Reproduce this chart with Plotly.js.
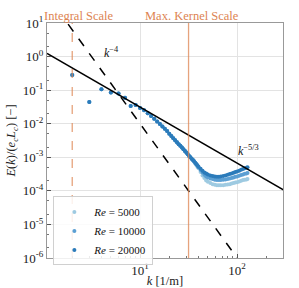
<!DOCTYPE html>
<html><head><meta charset="utf-8">
<script src="https://cdn.plot.ly/plotly-3.0.1.min.js"></script>
<style>html,body{margin:0;padding:0;background:#fff}#chart{width:299px;height:288px}</style>
</head><body><div id="chart"></div>
<script>
// wavenumbers k [1/m]
const kValues = [2,3,4,5,6,7,8,9,10,11,12,13,14,15,16,17,18,19,20,21,22,23,24,25,26,27,28,29,30,31,32,33,34,35,36,37,38,39,40,
  42,44,46,48,50,53,56,59,62,65,68,72,76,80,84,88,92,96,100,105,110,115,120,125,128];

const common = [0.282,0.0447,0.107,0.0851,0.0794,0.0589,0.0339,0.0363,0.0295,0.0251,0.0204,0.0170,0.0141,0.0117,0.00977,0.00832,0.00708,0.00603,0.00501,0.00427,0.00372,0.00324,0.00282,0.00245,0.00219,0.00195,0.00174,0.00155,0.00138,0.00123,0.00110,0.00100,0.000912,0.000832];

const E_Re20000 = common.concat([0.000759,0.000692,0.000631,0.000575,0.000525,
  0.000457,0.000398,0.000355,0.000331,0.000309,0.000288,0.000275,0.000269,0.000263,0.000263,0.000269,0.000275,0.000288,0.000302,0.000316,0.000331,0.000347,0.000363,0.000380,0.000398,0.000427,0.000447,0.000468,0.000490,0.000501]);
const E_Re10000 = common.concat([0.000759,0.000692,0.000617,0.000562,0.000501,
  0.000417,0.000355,0.000302,0.000269,0.000251,0.000234,0.000224,0.000214,0.000209,0.000209,0.000209,0.000214,0.000219,0.000224,0.000234,0.000240,0.000251,0.000263,0.000269,0.000282,0.000295,0.000309,0.000324,0.000331,0.000339]);
const E_Re5000 = common.concat([0.000741,0.000661,0.000589,0.000525,0.000468,
  0.000363,0.000288,0.000240,0.000204,0.000186,0.000170,0.000158,0.000151,0.000148,0.000148,0.000148,0.000148,0.000151,0.000155,0.000158,0.000166,0.000170,0.000178,0.000182,0.000191,0.000200,0.000209,0.000214,0.000219,0.000224]);

const seriesNames = ['<i>Re</i> = 5000','<i>Re</i> = 10000','<i>Re</i> = 20000'];
const seriesColors = ['#9ecae1','#5b9fd3','#2b7bba'];

// reference slopes
const refK = [1.1, 300];
const refKm4 = [100/Math.pow(1.1,4), 100/Math.pow(300,4)];
const refKm53 = [1.45*Math.pow(1.1,-5/3), 1.45*Math.pow(300,-5/3)];
const integralScale = 2;
const maxKernelScale = 31.6;

const orange = '#dd8452';
const serif = '"Liberation Serif", "Times New Roman", "DejaVu Serif", serif';

const traces = [];
[E_Re5000, E_Re10000, E_Re20000].forEach((E,i)=>{
  traces.push({x:kValues, y:E, type:'scatter', mode:'markers', name:seriesNames[i],
    marker:{color:seriesColors[i], size:4, line:{width:0}}});
});
traces.push({x:refK, y:refKm4, mode:'lines', line:{color:'black', dash:'dash', width:1.5}, showlegend:false, hoverinfo:'skip'});
traces.push({x:refK, y:refKm53, mode:'lines', line:{color:'black', width:1.5}, showlegend:false, hoverinfo:'skip'});
traces.push({x:[integralScale,integralScale], y:[1e-6,10], mode:'lines', line:{color:orange, dash:'dash', width:1.3}, opacity:0.75, showlegend:false, hoverinfo:'skip'});
traces.push({x:[maxKernelScale,maxKernelScale], y:[1e-6,10], mode:'lines', line:{color:orange, width:1.3}, opacity:0.75, showlegend:false, hoverinfo:'skip'});

const ytv = [10,1,0.1,0.01,1e-3,1e-4,1e-5,1e-6];
const ytt = ['10<sup>1</sup>','10<sup>0</sup>','10<sup>-1</sup>','10<sup>-2</sup>','10<sup>-3</sup>','10<sup>-4</sup>','10<sup>-5</sup>','10<sup>-6</sup>'];

const layout = {
  width:299, height:288,
  margin:{l:47, r:16, t:23, b:30},
  paper_bgcolor:'#fff', plot_bgcolor:'#fff',
  font:{family:serif, size:12, color:'#222'},
  showlegend:true,
  legend:{x:0.027, y:0.262, xanchor:'left', yanchor:'top', bgcolor:'rgba(255,255,255,0.85)', bordercolor:'#d0d0d0', borderwidth:1, font:{family:serif, size:11, color:'#111'}, itemsizing:'trace', tracegroupgap:0, itemwidth:30},
  xaxis:{type:'log', range:[0.041, 2.473], tickvals:[10,100], ticktext:['10<sup>1</sup>','10<sup>2</sup>'],
    ticks:'inside', ticklen:4, tickcolor:'#555', showgrid:true, gridcolor:'#e3e3e3', gridwidth:1,
    showline:true, linecolor:'#999', linewidth:1, mirror:true, zeroline:false,
    minor:{tickvals:[2,3,4,5,6,7,8,9,20,30,40,50,60,70,80,90,200], ticks:'inside', ticklen:2, tickcolor:'#777', showgrid:false},
    tickfont:{family:serif, size:13, color:'#222'},
    title:{text:'<i>k</i> [1/m]', font:{family:serif, size:12.5, color:'#222'}, standoff:4}},
  yaxis:{type:'log', range:[-6, 1], tickvals:ytv, ticktext:ytt,
    ticks:'inside', ticklen:4, tickcolor:'#555', showgrid:true, gridcolor:'#e3e3e3', gridwidth:1,
    showline:true, linecolor:'#999', linewidth:1, mirror:true, zeroline:false,
    minor:{ticks:'inside', ticklen:2, tickcolor:'#777', showgrid:false},
    tickfont:{family:serif, size:13, color:'#222'},
    title:{text:'<i>E</i>(<i>k</i>)/(<i>e</i><sub><i>c</i></sub><i>L</i><sub><i>c</i></sub>) [−]', font:{family:serif, size:12.5, color:'#222'}, standoff:4}},
  annotations:[
    {x:0.373, y:1.03, xref:'x', yref:'paper', text:'Integral Scale', showarrow:false, xanchor:'center', yanchor:'middle', font:{family:serif, size:12.5, color:orange}},
    {x:1.54, y:1.03, xref:'x', yref:'paper', text:'Max. Kernel Scale', showarrow:false, xanchor:'center', yanchor:'middle', font:{family:serif, size:12.5, color:orange}},
    {x:Math.log10(5.1), y:Math.log10(1.3), xref:'x', yref:'y', text:'<i>k</i><sup>−4</sup>', showarrow:false, font:{family:serif, size:12, color:'#111'}},
    {x:Math.log10(130), y:Math.log10(0.0016), xref:'x', yref:'y', text:'<i>k</i><sup>−5/3</sup>', showarrow:false, font:{family:serif, size:12, color:'#111'}}
  ]
};
Plotly.newPlot('chart', traces, layout, {displayModeBar:false, staticPlot:true});
</script></body></html>
